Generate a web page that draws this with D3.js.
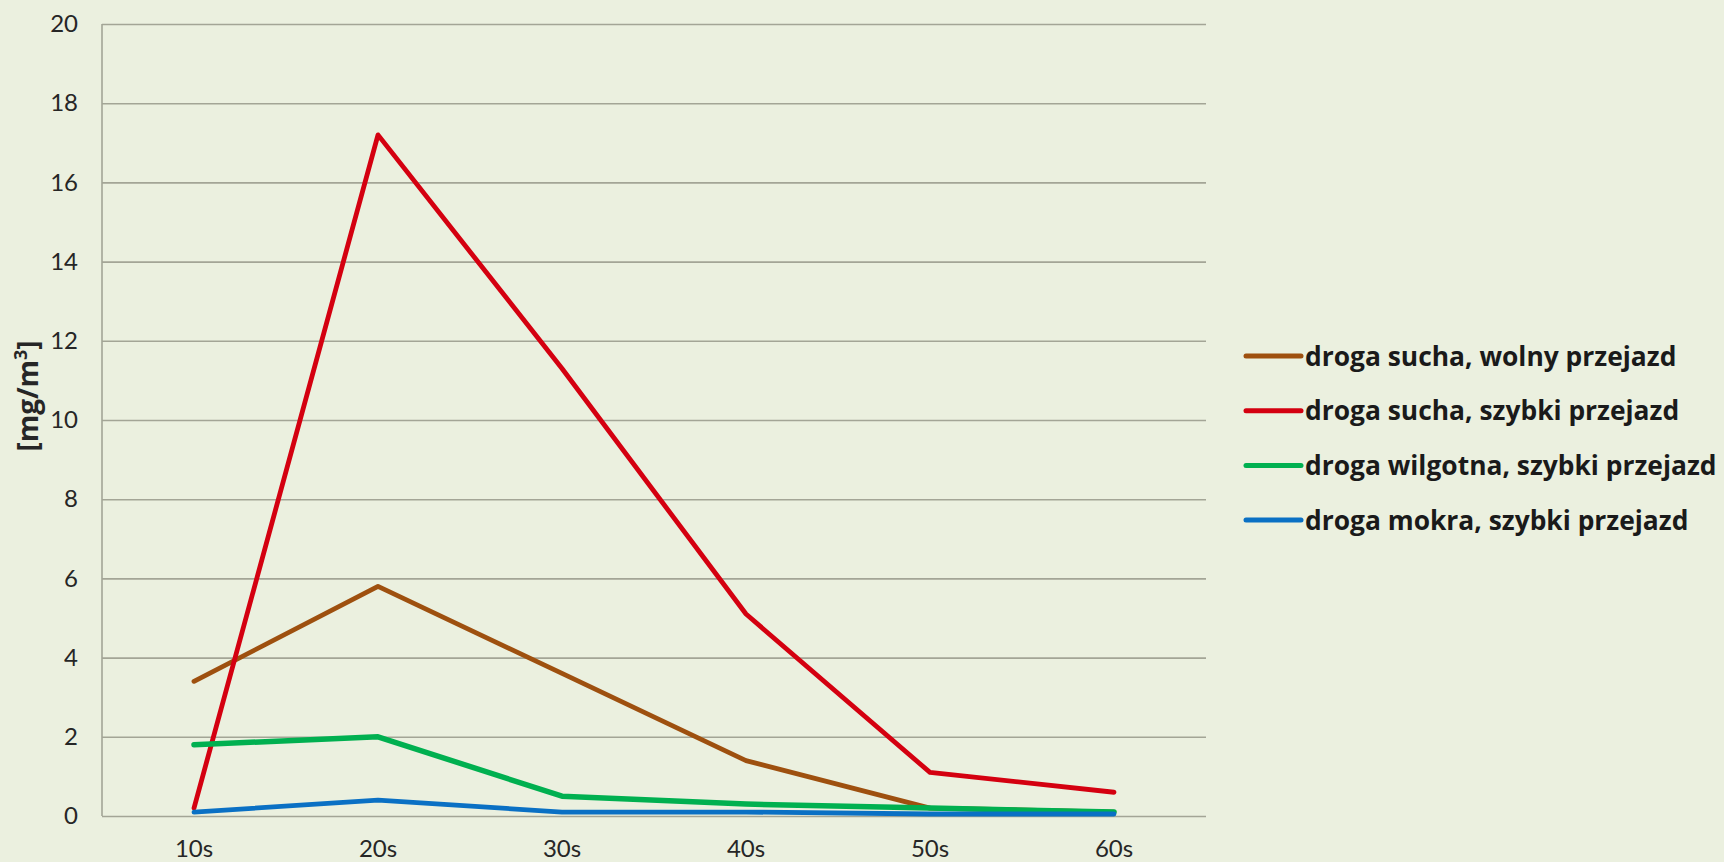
<!DOCTYPE html>
<html>
<head>
<meta charset="utf-8">
<script src="https://cdn.jsdelivr.net/npm/d3@7"></script>
<style>
  html, body { margin: 0; padding: 0; background: #EBF0DF; }
  svg { display: block; }
</style>
</head>
<body>
<svg id="chart" width="1724" height="862"></svg>
<script>
// Time since the vehicle passed
const categories = ["10s", "20s", "30s", "40s", "50s", "60s"];

// Dust concentration [mg/m³]
const drySlow  = [3.4, 5.8, 3.6, 1.4, 0.2, 0.1];
const dryFast  = [0.2, 17.2, 11.3, 5.1, 1.1, 0.6];
const dampFast = [1.8, 2.0, 0.5, 0.3, 0.2, 0.1];
const wetFast  = [0.1, 0.4, 0.1, 0.1, 0.05, 0.05];

const seriesNames = [
  "droga sucha, wolny przejazd",
  "droga sucha, szybki przejazd",
  "droga wilgotna, szybki przejazd",
  "droga mokra, szybki przejazd"
];
const seriesColors = ["#9E500F", "#D40010", "#00B050", "#0A70C4"];
const seriesValues = [drySlow, dryFast, dampFast, wetFast];

const yTicks = [0, 2, 4, 6, 8, 10, 12, 14, 16, 18, 20];

const W = 1724, H = 862;
const margin = { top: 24, right: 518, bottom: 46, left: 102 };
const innerW = W - margin.left - margin.right;
const innerH = H - margin.top - margin.bottom;

const svg = d3.select("#chart");
svg.append("rect").attr("width", W).attr("height", H).attr("fill", "#EBF0DF");

const g = svg.append("g").attr("transform", `translate(${margin.left},${margin.top})`);

const x = d3.scaleBand().domain(categories).range([0, innerW]).padding(0);
const y = d3.scaleLinear().domain([0, 20]).range([innerH, 0]);
const cx = c => x(c) + x.bandwidth() / 2;

const tickFont = "Lato, 'Open Sans', sans-serif";
const boldFont = "'Open Sans', Lato, sans-serif";

// Horizontal gridlines and value labels
const yAxis = d3.axisLeft(y).tickValues(yTicks).tickSize(-innerW).tickPadding(24).tickFormat(d3.format("d"));
const yg = g.append("g").call(yAxis);
yg.select(".domain").remove();
yg.selectAll(".tick line").attr("stroke", "#A3A596").attr("stroke-width", 1.6);
yg.selectAll(".tick text")
  .attr("fill", "#262626")
  .style("font-family", tickFont)
  .style("font-size", "24px");

// Vertical axis line
g.append("line")
  .attr("x1", 0).attr("x2", 0).attr("y1", 0).attr("y2", innerH)
  .attr("stroke", "#A3A596").attr("stroke-width", 1.6);

// Category labels
const xAxis = d3.axisBottom(x).tickSize(0).tickPadding(24);
const xg = g.append("g").attr("transform", `translate(0,${innerH})`).call(xAxis);
xg.select(".domain").remove();
xg.selectAll(".tick text")
  .attr("fill", "#262626")
  .style("font-family", tickFont)
  .style("font-size", "24px");

// Y axis title with superscript exponent
const title = svg.append("text")
  .attr("transform", `translate(38,396) rotate(-90)`)
  .attr("text-anchor", "middle")
  .attr("fill", "#262626")
  .style("font-family", boldFont)
  .style("font-weight", "bold")
  .style("font-size", "28px");
title.append("tspan").text("[mg/m");
title.append("tspan").attr("dy", -11).style("font-size", "18px").text("3");
title.append("tspan").attr("dy", 11).text("]");

// Series lines
const line = d3.line()
  .x((d, i) => cx(categories[i]))
  .y(d => y(d));

seriesValues.forEach((vals, i) => {
  g.append("path")
    .datum(vals)
    .attr("fill", "none")
    .attr("stroke", seriesColors[i])
    .attr("stroke-width", i === 2 ? 5.5 : 4.8)
    .attr("stroke-linejoin", "round")
    .attr("stroke-linecap", "round")
    .attr("d", line);
});

// Legend
const legend = svg.append("g").attr("transform", "translate(1246,356)");
seriesNames.forEach((name, i) => {
  const row = legend.append("g").attr("transform", `translate(0,${i * 54.7})`);
  row.append("line")
    .attr("x1", 0).attr("x2", 55).attr("y1", 0).attr("y2", 0)
    .attr("stroke", seriesColors[i]).attr("stroke-width", 5)
    .attr("stroke-linecap", "round");
  row.append("text")
    .attr("x", 59).attr("y", 0).attr("dy", "0.36em")
    .attr("fill", "#1A1A1A")
    .style("font-family", boldFont)
    .style("font-weight", "bold")
    .style("font-size", "26.4px")
    .text(name);
});
</script>
</body>
</html>
